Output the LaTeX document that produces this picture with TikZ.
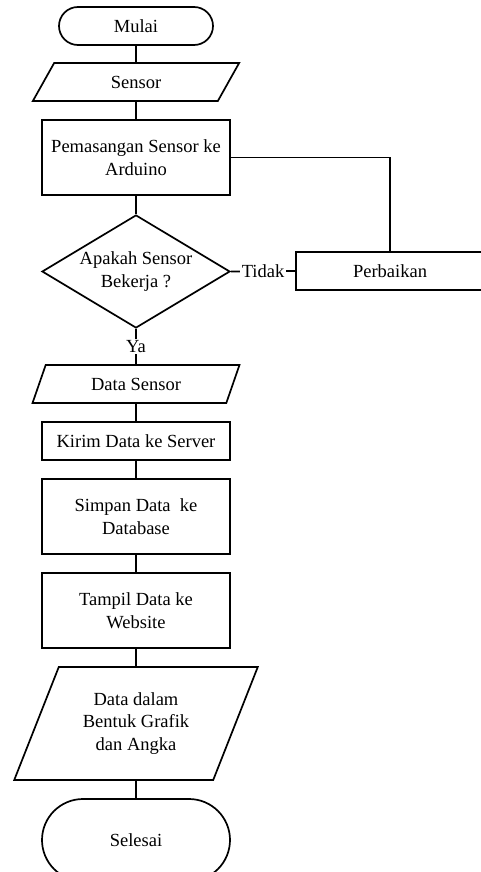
\documentclass[tikz,border=0pt]{standalone}
\usepackage{fontspec}
\setmainfont{Liberation Serif}
\usetikzlibrary{shapes.geometric}
\begin{document}
\begin{tikzpicture}[x=1pt,y=1pt,
  every node/.style={font=\fontsize{18.5}{22.5}\selectfont, inner sep=0pt, align=center},
  lw/.style={line width=1.7pt},
  term/.style={lw, draw, rectangle, minimum width=154pt, minimum height=38pt, rounded corners=19pt},
  procbox/.style={lw, draw, rectangle, minimum width=188pt},
  iobox/.style={lw, draw, trapezium, trapezium stretches=true,
     trapezium left angle=62.2, trapezium right angle=117.8,
     minimum width=207pt, minimum height=38pt},
  decision/.style={lw, draw, diamond, aspect=1.66, minimum width=188pt, minimum height=113pt},
  link/.style={lw},
  tag/.style={fill=white, inner sep=1.5pt}
]
\useasboundingbox (0,0) rectangle (481,-872);

\node[term] (mulai) at (136,-26) {Mulai};
\node[iobox] (sensor) at (136,-82) {Sensor};
\node[procbox, minimum height=75pt] (pasang) at (136,-157.5) {Pemasangan Sensor ke\\Arduino};
\node[decision] (cek) at (136,-271.5) {Apakah Sensor\\Bekerja ?};
\node[procbox, minimum height=38pt] (perbaikan) at (390,-271) {Perbaikan};
\node[iobox] (datasensor) at (136,-384) {Data Sensor};
\node[procbox, minimum height=38pt] (kirim) at (136,-441) {Kirim Data ke Server};
\node[procbox, minimum height=75pt] (simpan) at (136,-516.5) {Simpan Data\ \ ke\\Database};
\node[procbox, minimum height=75pt] (tampil) at (136,-610.5) {Tampil Data ke\\Website};
\node[lw, draw, trapezium, trapezium stretches=true,
      trapezium left angle=63.6, trapezium right angle=116.4,
      minimum width=244pt, minimum height=113pt] (grafik) at (136,-723.5)
      {Data dalam\\Bentuk Grafik\\dan Angka};
\node[lw, draw, rectangle, minimum width=188pt, minimum height=82pt,
      rounded corners=41pt] (selesai) at (136,-840) {Selesai};

\draw[link] (mulai) -- (sensor);
\draw[link] (sensor) -- (pasang);
\draw[link] (pasang) -- (cek);
\draw[link] (cek.east) -- node[tag] {Tidak} (perbaikan.west);
\draw[link] (perbaikan.north) |- (pasang.east);
\draw[link] (cek.south) -- node[tag] {Ya} (datasensor.north);
\draw[link] (datasensor) -- (kirim);
\draw[link] (kirim) -- (simpan);
\draw[link] (simpan) -- (tampil);
\draw[link] (tampil) -- (grafik);
\draw[link] (grafik) -- (selesai);
\end{tikzpicture}
\end{document}
